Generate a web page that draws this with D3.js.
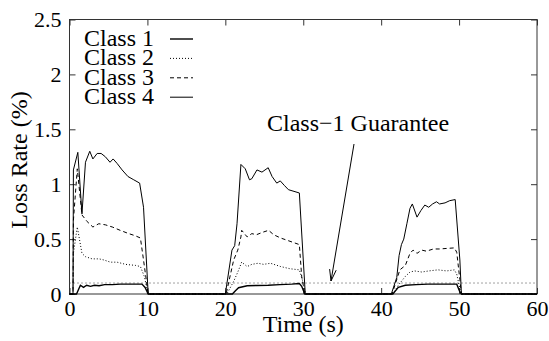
<!DOCTYPE html>
<html>
<head>
<meta charset="utf-8">
<script src="https://cdn.jsdelivr.net/npm/d3@7"></script>
<style>
 body { margin: 0; background: #fff; }
 svg { display: block; }
</style>
</head>
<body>
<div id="chart"></div>
<script>
/* Loss rate per class over time, three load bursts,
 * with the class-1 guarantee drawn as a dotted line. */

// time samples (s) and loss rates (%) for each class
var timeClass1 = [0, 0.9, 1.4, 1.8, 2.2, 2.7, 3.2, 3.8, 4.5, 5.5, 6.5, 7.5, 8.5, 9.3, 9.7, 10.1,
 20.9, 21.3, 21.7, 22.8, 24, 25.5, 27, 28.5, 29.5, 29.8, 30.2,
 41.5, 42.2, 43.1, 44.5, 46, 47.5, 49, 49.7, 50.1, 50.3, 60];
var lossClass1 = [0, 0, 0.08, 0.06, 0.08, 0.07, 0.08, 0.075, 0.085, 0.085, 0.09, 0.09, 0.09, 0.09, 0.06, 0,
 0, 0.03, 0.057, 0.075, 0.078, 0.08, 0.085, 0.09, 0.095, 0.07, 0,
 0, 0.06, 0.08, 0.085, 0.09, 0.09, 0.09, 0.09, 0.02, 0, 0];

var timeClass2 = [0, 0.45, 0.5, 1.0, 1.6, 2.05, 2.9, 3.8, 4.4, 5.25, 6.1, 7.2, 8.5, 9.1, 9.6, 10.1,
 20.2, 21.1, 21.6, 22.1, 22.8, 23.4, 24.2, 24.9, 25.8, 27.1, 28.3, 29.5, 30.0, 30.3,
 41.5, 42.2, 43.1, 43.7, 44.3, 45.2, 46.1, 47.3, 48.4, 49.4, 49.7, 50.1, 50.3, 60];
var lossClass2 = [0, 0, 0.37, 0.61, 0.37, 0.34, 0.32, 0.32, 0.31, 0.29, 0.29, 0.27, 0.26, 0.25, 0.16, 0,
 0, 0.12, 0.2, 0.29, 0.25, 0.27, 0.28, 0.27, 0.28, 0.25, 0.23, 0.22, 0.1, 0,
 0, 0.08, 0.16, 0.2, 0.21, 0.2, 0.21, 0.22, 0.21, 0.22, 0.18, 0.05, 0, 0];

var timeClass3 = [0, 0.45, 0.5, 1.0, 1.6, 2.26, 3.0, 3.76, 4.6, 5.5, 6.5, 7.6, 8.46, 9.1, 9.5, 10.1,
 20.1, 21.07, 21.6, 22.0, 22.1, 22.8, 23.4, 24.0, 24.7, 25.55, 26.2, 27.1, 28.3, 29.5, 29.8, 30.2,
 41.4, 42.4, 43.1, 43.7, 44.1, 44.6, 45.2, 45.8, 46.7, 47.5, 48.4, 49.4, 49.7, 50.1, 50.3, 60];
var lossClass3 = [0, 0, 0.67, 1.14, 0.72, 0.66, 0.61, 0.64, 0.63, 0.61, 0.58, 0.55, 0.53, 0.51, 0.31, 0,
 0, 0.31, 0.4, 0.52, 0.58, 0.52, 0.55, 0.54, 0.56, 0.58, 0.54, 0.51, 0.48, 0.45, 0.16, 0,
 0, 0.22, 0.26, 0.37, 0.4, 0.37, 0.4, 0.39, 0.41, 0.41, 0.415, 0.42, 0.38, 0.13, 0, 0];

var timeClass4 = [0, 0.45, 0.5, 1.07, 1.6, 2.05, 2.6, 3.0, 3.55, 4.06, 4.6, 5.2, 5.6, 6.1, 6.75, 7.5, 8.25, 9.0, 9.5, 10.1,
 20.0, 20.85, 21.2, 21.5, 22.0, 22.56, 23.1, 23.4, 24.06, 24.7, 25.5, 26.0, 26.6, 27.05, 27.56, 28.1, 29.5, 30.26,
 41.3, 42.0, 42.3, 42.6, 42.9, 43.3, 43.7, 44.0, 44.6, 45.1, 45.6, 46.1, 46.6, 47.1, 47.5, 48.2, 48.8, 49.5, 50.1, 50.3, 60];
var lossClass4 = [0, 0, 1.13, 1.29, 0.73, 1.2, 1.3, 1.23, 1.28, 1.28, 1.25, 1.2, 1.23, 1.19, 1.13, 1.07, 1.04, 1.01, 0.79, 0,
 0, 0.4, 0.44, 0.64, 1.18, 1.14, 1.04, 1.05, 1.13, 1.11, 1.15, 1.07, 1.01, 1.03, 0.99, 0.95, 0.92, 0,
 0, 0.15, 0.35, 0.45, 0.5, 0.64, 0.78, 0.82, 0.7, 0.76, 0.81, 0.79, 0.82, 0.84, 0.82, 0.83, 0.85, 0.86, 0.31, 0, 0];

var classNames = ['Class 1', 'Class 2', 'Class 3', 'Class 4'];
var guarantee = 0.1;                      // class-1 loss guarantee (%)
var xTicks = [0, 10, 20, 30, 40, 50, 60];
var yTicks = [0, 0.5, 1, 1.5, 2, 2.5];
var yTickLabels = ['0', '0.5', '1', '1.5', '2', '2.5'];

// graphical parameters
var width = 549, height = 341;
var margin = {left: 69.5, right: 12, top: 19.5, bottom: 47};
var fontFamily = '"Liberation Serif", "Times New Roman", serif';
var tickLen = 6;

// line styles: class 1 and 4 solid, 2 dotted, 3 dashed
var dashes = [null, '1,2', '4,3', null];
var strokes = [1.4, 1, 1, 1];

var series = [
 d3.zip(timeClass1, lossClass1),
 d3.zip(timeClass2, lossClass2),
 d3.zip(timeClass3, lossClass3),
 d3.zip(timeClass4, lossClass4)
];

var svg = d3.select('#chart').append('svg')
 .attr('width', width)
 .attr('height', height)
 .style('font-family', fontFamily);

var x = d3.scaleLinear().domain([0, 60]).range([margin.left, width - margin.right]);
var y = d3.scaleLinear().domain([0, 2.5]).range([height - margin.bottom, margin.top]);

// tick marks pointing inward on all four sides
var bottomAxis = d3.axisBottom(x).tickValues(xTicks).tickSize(-tickLen).tickPadding(8).tickFormat(d3.format('d'));
var topAxis = d3.axisTop(x).tickValues(xTicks).tickSize(-tickLen).tickFormat('');
var leftAxis = d3.axisLeft(y).tickValues(yTicks).tickSize(-tickLen).tickPadding(8)
 .tickFormat(function(d, i){ return yTickLabels[i]; });
var rightAxis = d3.axisRight(y).tickValues(yTicks).tickSize(-tickLen).tickFormat('');

function styleAxis(g)
{
 g.select('.domain').remove();
 g.selectAll('.tick line').attr('stroke', '#333');
 g.selectAll('.tick text')
  .attr('fill', '#000')
  .style('font-family', fontFamily)
  .style('font-size', '22px');
}

svg.append('g').attr('transform', 'translate(0,' + y(0) + ')').call(bottomAxis).call(styleAxis)
 .selectAll('.tick text').attr('dy', '0.62em');
svg.append('g').attr('transform', 'translate(0,' + y(2.5) + ')').call(topAxis).call(styleAxis);
svg.append('g').attr('transform', 'translate(' + x(0) + ',0)').call(leftAxis).call(styleAxis)
 .selectAll('.tick text').attr('dy', '0.33em');
svg.append('g').attr('transform', 'translate(' + x(60) + ',0)').call(rightAxis).call(styleAxis);

// frame
svg.append('rect')
 .attr('x', x(0)).attr('y', y(2.5))
 .attr('width', x(60) - x(0)).attr('height', y(0) - y(2.5))
 .attr('fill', 'none').attr('stroke', '#333').attr('stroke-width', 1);

// guarantee line
svg.append('line')
 .attr('x1', x(0)).attr('x2', x(60))
 .attr('y1', y(guarantee)).attr('y2', y(guarantee))
 .attr('stroke', '#444').attr('stroke-width', 1).attr('stroke-dasharray', '1,3');

var line = d3.line()
 .x(function(d){ return x(d[0]); })
 .y(function(d){ return y(d[1]); });

svg.selectAll('path.series').data(series).enter().append('path')
 .attr('class', 'series')
 .attr('d', line)
 .attr('fill', 'none')
 .attr('stroke', '#000')
 .attr('stroke-width', function(d, i){ return strokes[i]; })
 .attr('stroke-dasharray', function(d, i){ return dashes[i]; });

// legend, text then line sample
var legend = svg.append('g');
classNames.forEach(function(name, i)
{
 var base = 46 + i * 19.4;
 legend.append('text')
  .attr('x', 84).attr('y', base)
  .style('font-size', '24px')
  .text(name);
 legend.append('line')
  .attr('x1', 170).attr('x2', 193)
  .attr('y1', base - 7).attr('y2', base - 7)
  .attr('stroke', '#000')
  .attr('stroke-width', strokes[i])
  .attr('stroke-dasharray', dashes[i]);
});

// annotation with arrow pointing at the guarantee line
svg.append('text')
 .attr('x', 267).attr('y', 131)
 .style('font-size', '24px')
 .text('Class\u22121 Guarantee');

var tip = [331, 281], tail = [354, 144];
var ang = Math.atan2(tail[1] - tip[1], tail[0] - tip[0]);
var headLen = 12, headAng = 0.28;
svg.append('line')
 .attr('x1', tail[0]).attr('y1', tail[1]).attr('x2', tip[0]).attr('y2', tip[1])
 .attr('stroke', '#000').attr('stroke-width', 1);
svg.append('path')
 .attr('d', 'M' + (tip[0] + headLen * Math.cos(ang - headAng)) + ',' + (tip[1] + headLen * Math.sin(ang - headAng))
  + 'L' + tip[0] + ',' + tip[1]
  + 'L' + (tip[0] + headLen * Math.cos(ang + headAng)) + ',' + (tip[1] + headLen * Math.sin(ang + headAng)))
 .attr('fill', 'none').attr('stroke', '#000').attr('stroke-width', 1);

// axis titles
svg.append('text')
 .attr('x', (x(0) + x(60)) / 2).attr('y', 332)
 .attr('text-anchor', 'middle')
 .style('font-size', '24px')
 .text('Time (s)');

svg.append('text')
 .attr('transform', 'translate(27,' + 160 + ') rotate(-90)')
 .attr('text-anchor', 'middle')
 .style('font-size', '24px')
 .text('Loss Rate (%)');
</script>
</body>
</html>
